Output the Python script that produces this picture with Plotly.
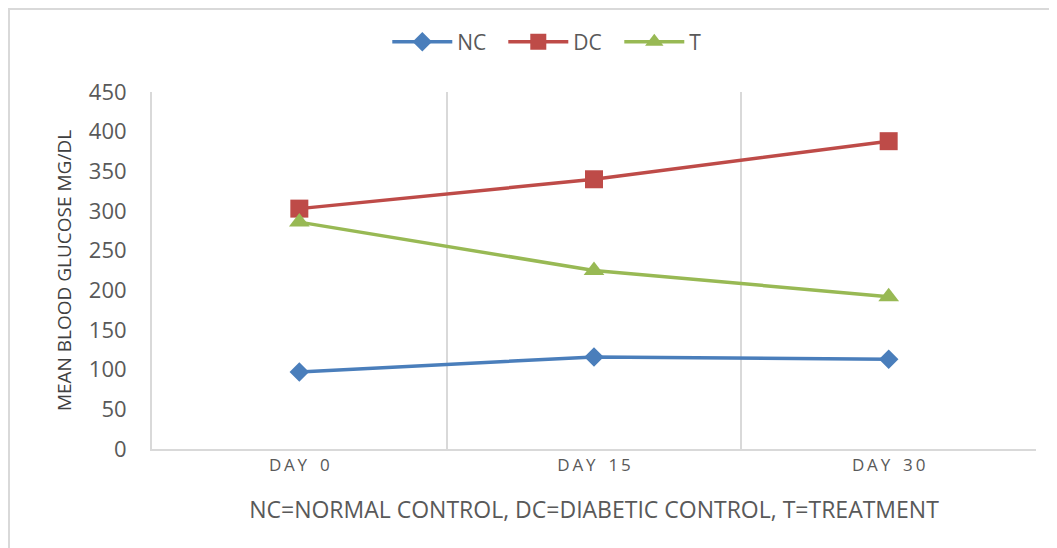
import plotly.graph_objects as go

days = ["D\u2009A\u2009Y\u2002 0", "D\u2009A\u2009Y\u2002 1\u20095", "D\u2009A\u2009Y\u2002 3\u20090"]
nc = [97, 116, 113]
dc = [303, 340, 388]
t = [286, 225, 192]
y_ticks = [0, 50, 100, 150, 200, 250, 300, 350, 400, 450]

font = "Open Sans"
fig = go.Figure()
fig.add_trace(go.Scatter(x=days, y=nc, name="NC", mode="lines+markers",
                         line=dict(color="#4A7EBB", width=3.5),
                         marker=dict(symbol="diamond", size=15, color="#4A7EBB")))
fig.add_trace(go.Scatter(x=days, y=dc, name="DC", mode="lines+markers",
                         line=dict(color="#BE4B48", width=3.5),
                         marker=dict(symbol="square", size=18, color="#BE4B48")))
fig.add_trace(go.Scatter(x=days, y=t, name="T", mode="lines+markers",
                         line=dict(color="#98B954", width=3.5),
                         marker=dict(symbol="triangle-up", size=18, color="#98B954")))

W, H = 1049, 540
L, T_, R, B = 144, 84, 21, 99
pw, ph = W - L - R, H - T_ - B

fig.update_layout(
    width=W, height=H,
    margin=dict(l=L, r=R, t=T_, b=B),
    paper_bgcolor="white", plot_bgcolor="white",
    font=dict(family=font, color="#595959", size=16),
    showlegend=True,
    legend=dict(orientation="h", x=0.463, xanchor="center", y=1.14, yanchor="middle",
                font=dict(size=21, color="#595959"), itemwidth=60,
                entrywidth=41, entrywidthmode="pixels"),
    xaxis=dict(type="category", tickson="boundaries", showgrid=True,
               gridcolor="#D9D9D9", gridwidth=2, showline=True, linecolor="#D9D9D9",
               linewidth=2, ticks="", tickfont=dict(size=17, color="#595959"),
               title=dict(text="NC=NORMAL CONTROL, DC=DIABETIC CONTROL, T=TREATMENT",
                          font=dict(size=23, color="#595959"), standoff=26),
               range=[-0.5, 2.5], zeroline=False),
    yaxis=dict(range=[0, 450], tickvals=y_ticks, showgrid=False, showline=True,
               linecolor="#D9D9D9", linewidth=2, ticks="", zeroline=False,
               ticklabelstandoff=19,
               tickfont=dict(size=22, color="#595959"),
               title=dict(text="MEAN BLOOD GLUCOSE MG/DL",
                          font=dict(size=19, color="#404040"), standoff=12)),
    shapes=[dict(type="rect", xref="paper", yref="paper",
                 x0=(1 - L) / pw, x1=(W - 2 - L) / pw,
                 y0=-0.4, y1=(ph + T_ - 1) / ph,
                 line=dict(color="#D9D9D9", width=2), layer="below")],
)

fig.write_html("out.html")
